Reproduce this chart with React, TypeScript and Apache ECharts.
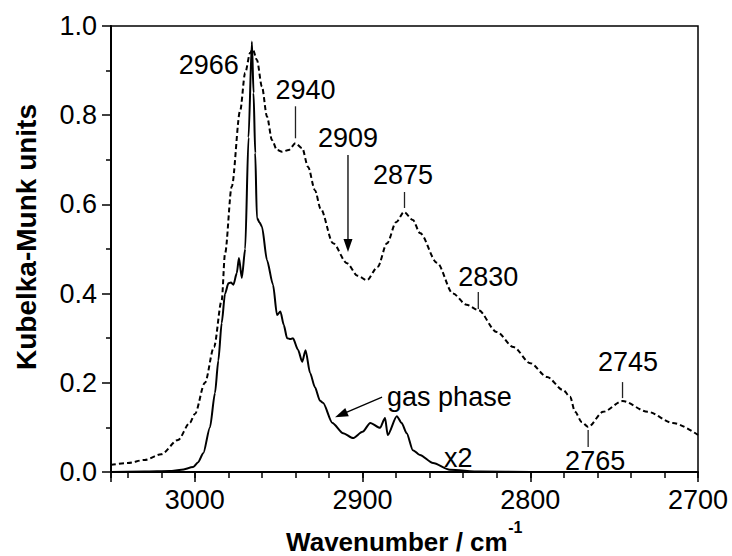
import React, { useEffect, useRef } from 'react';
import * as echarts from 'echarts';

// ---------- data ----------
const solidWn = [3050, 3030, 3015, 3008, 3001, 2998, 2995, 2991, 2988, 2986, 2984, 2982, 2980, 2978.5, 2977, 2975, 2973.7, 2972, 2970, 2968, 2966, 2965, 2964, 2963, 2961.5, 2960, 2957, 2953.4, 2951, 2949, 2947, 2945, 2943, 2941.5, 2938.5, 2936, 2934, 2931.3, 2928.4, 2925.4, 2923.6, 2918, 2911.6, 2905.7, 2900, 2895.4, 2889.6, 2886.6, 2885, 2879.6, 2876.7, 2873.7, 2870, 2865.8, 2858, 2848, 2830, 2800, 2700];
const solidVal = [0, 0.001, 0.002, 0.005, 0.011, 0.022, 0.042, 0.1, 0.177, 0.25, 0.334, 0.4, 0.423, 0.425, 0.42, 0.446, 0.48, 0.435, 0.5, 0.75, 0.965, 0.85, 0.715, 0.57, 0.56, 0.55, 0.475, 0.42, 0.352, 0.36, 0.33, 0.3, 0.298, 0.3, 0.274, 0.247, 0.273, 0.222, 0.19, 0.16, 0.155, 0.11, 0.087, 0.076, 0.09, 0.11, 0.099, 0.121, 0.083, 0.125, 0.11, 0.087, 0.049, 0.038, 0.02, 0.005, 0.001, 0, 0];

const dashWn = [3050, 3040, 3030, 3020, 3010, 3003, 3000, 2994, 2988.6, 2984, 2982, 2978, 2973, 2970, 2967, 2965.5, 2963, 2960, 2957, 2954, 2951, 2948, 2944, 2940, 2936, 2932.5, 2928.4, 2925, 2917.6, 2909.3, 2903, 2897.4, 2891, 2885.4, 2880, 2875.3, 2870, 2865.8, 2855.6, 2846.1, 2838, 2831, 2820, 2810, 2800, 2790, 2780.5, 2776.3, 2773.3, 2769.3, 2765.5, 2756.5, 2745, 2730, 2715, 2700];
const dashVal = [0.016, 0.02, 0.027, 0.04, 0.072, 0.11, 0.13, 0.2, 0.28, 0.385, 0.49, 0.64, 0.81, 0.895, 0.94, 0.948, 0.924, 0.864, 0.797, 0.744, 0.722, 0.718, 0.722, 0.737, 0.726, 0.684, 0.632, 0.59, 0.513, 0.468, 0.44, 0.43, 0.46, 0.513, 0.56, 0.583, 0.565, 0.536, 0.469, 0.4, 0.375, 0.363, 0.314, 0.28, 0.244, 0.213, 0.184, 0.169, 0.135, 0.112, 0.101, 0.135, 0.159, 0.135, 0.11, 0.083];

const xTickLabels = ['2700', '2800', '2900', '3000'];
const yTickLabels = ['0.0', '0.2', '0.4', '0.6', '0.8', '1.0'];

// peak annotations (anchor points in data space)
const peakLabels = ['2966', '2940', '2909', '2875', '2830', '2765', '2745'];
const peakWn = [2966, 2940, 2908.7, 2875, 2831, 2765.5, 2745];
const peakVal = [0.948, 0.737, 0.493, 0.583, 0.363, 0.101, 0.159];

const gasLabel = 'gas phase';
const gasWn = 2916.4;
const gasVal = 0.123;
const factorLabel = 'x2';
const factorWn = 2851.5;
const factorVal = 0.031;

const xTitle = 'Wavenumber / cm';
const xTitleSup = '-1';
const yTitle = 'Kubelka-Munk units';

// ---------- layout (pixel offsets from anchors) ----------
const peakLayout = [
  { mark: 'none', t0: 0, t1: 0, tx: -13, ty: 16, align: 'right' },
  { mark: 'tick', t0: -37, t1: -5, tx: 10, ty: -53, align: 'center' },
  { mark: 'arrow', t0: -97, t1: 0, tx: 0, ty: -114, align: 'center' },
  { mark: 'tick', t0: -20, t1: -4, tx: -1.5, ty: -37, align: 'center' },
  { mark: 'tick', t0: -18, t1: -1, tx: 10, ty: -33, align: 'center' },
  { mark: 'tick', t0: 3, t1: 20, tx: 7, ty: 34, align: 'center' },
  { mark: 'tick', t0: -19, t1: -3, tx: 5.5, ty: -39, align: 'center' },
];

const FONT = '"Liberation Sans", Arial, Helvetica, sans-serif';
const FS = 27;

function textEl(x: number, y: number, text: string, align: string, extra: any = {}) {
  return {
    type: 'text',
    x,
    y,
    z: 100,
    silent: true,
    style: {
      text,
      fill: '#000',
      fontSize: FS,
      fontFamily: FONT,
      align,
      textAlign: align,
      verticalAlign: 'middle',
      textVerticalAlign: 'middle',
      ...extra,
    },
  };
}

function arrowEls(tipX: number, tipY: number, tailX: number, tailY: number) {
  const dx = tipX - tailX;
  const dy = tipY - tailY;
  const len = Math.sqrt(dx * dx + dy * dy);
  const ux = dx / len;
  const uy = dy / len;
  const L = 13;
  const W = 4.5;
  const bx = tipX - ux * L;
  const by = tipY - uy * L;
  return [
    {
      type: 'line',
      z: 100,
      silent: true,
      shape: { x1: tailX, y1: tailY, x2: bx + ux * 2, y2: by + uy * 2 },
      style: { stroke: '#000', lineWidth: 1.3 },
    },
    {
      type: 'polygon',
      z: 100,
      silent: true,
      shape: {
        points: [
          [tipX, tipY],
          [bx - uy * W, by + ux * W],
          [bx + uy * W, by - ux * W],
        ],
      },
      style: { fill: '#000' },
    },
  ];
}

function measure(text: string, font: string): number {
  const c = document.createElement('canvas').getContext('2d');
  if (!c) return text.length * 14;
  c.font = font;
  return c.measureText(text).width;
}

export default function App() {
  const ref = useRef<HTMLDivElement>(null);

  useEffect(() => {
    if (!ref.current) return;
    const chart = echarts.init(ref.current, undefined, { renderer: 'svg' });

    const solidData = solidWn.map((w, i) => [w, solidVal[i]]);
    const dashData = dashWn.map((w, i) => [w, dashVal[i]]);

    const axisLabelStyle = { color: '#000', fontSize: FS, fontFamily: FONT };

    chart.setOption({
      animation: false,
      backgroundColor: '#fff',
      grid: {
        left: 111,
        right: 34,
        top: 26,
        bottom: 84,
        show: true,
        borderColor: '#000',
        borderWidth: 1.5,
        backgroundColor: 'transparent',
      },
      xAxis: [
        {
          type: 'value',
          min: 2700,
          max: 3050,
          interval: 100,
          inverse: true,
          axisLine: { show: true, onZero: false, lineStyle: { color: '#000', width: 2 } },
          axisTick: { show: true, length: 10, lineStyle: { color: '#000', width: 1.5 } },
          axisLabel: {
            ...axisLabelStyle,
            margin: 14,
            formatter: (v: number) => {
              const s = String(Math.round(v));
              return xTickLabels.indexOf(s) >= 0 ? s : '';
            },
          },
          splitLine: { show: false },
        },
        {
          type: 'value',
          min: 2700,
          max: 3050,
          interval: 20,
          inverse: true,
          position: 'bottom',
          axisLine: { show: false },
          axisTick: { show: true, length: 6, lineStyle: { color: '#000', width: 1.5 } },
          axisLabel: { show: false },
          splitLine: { show: false },
        },
      ],
      yAxis: {
        type: 'value',
        min: 0,
        max: 1,
        interval: 0.2,
        axisLine: { show: true, lineStyle: { color: '#000', width: 2 } },
        axisTick: { show: true, length: 9, lineStyle: { color: '#000', width: 1.5 } },
        minorTick: { show: true, splitNumber: 2, length: 5, lineStyle: { color: '#000', width: 1.5 } },
        axisLabel: {
          ...axisLabelStyle,
          margin: 14,
          formatter: (v: number) => yTickLabels[Math.round(v / 0.2)] ?? '',
        },
        splitLine: { show: false },
      },
      series: [
        {
          type: 'line',
          name: 'surface',
          xAxisIndex: 0,
          data: dashData,
          showSymbol: false,
          smooth: 0.3,
          smoothMonotone: 'x',
          lineStyle: { color: '#000', width: 2, type: [5, 3] },
          z: 3,
        },
        {
          type: 'line',
          name: 'gas phase',
          xAxisIndex: 0,
          data: solidData,
          showSymbol: false,
          smooth: 0.25,
          smoothMonotone: 'x',
          lineStyle: { color: '#000', width: 2, type: 'solid' },
          z: 4,
        },
      ],
    });

    const px = (w: number, v: number) => chart.convertToPixel({ seriesIndex: 0 }, [w, v]) as number[];

    const g: any[] = [];
    peakLabels.forEach((lab, i) => {
      const [ax, ay] = px(peakWn[i], peakVal[i]);
      const L = peakLayout[i];
      if (L.mark === 'tick') {
        g.push({
          type: 'line',
          z: 100,
          silent: true,
          shape: { x1: ax, y1: ay + L.t0, x2: ax, y2: ay + L.t1 },
          style: { stroke: '#222', lineWidth: 1.3 },
        });
      } else if (L.mark === 'arrow') {
        g.push(...arrowEls(ax, ay + L.t1, ax, ay + L.t0));
      }
      g.push(textEl(ax + L.tx, ay + L.ty, lab, L.align));
    });

    const [gx, gy] = px(gasWn, gasVal);
    g.push(...arrowEls(gx, gy, gx + 47, gy - 20));
    g.push(textEl(gx + 52, gy - 20, gasLabel, 'left'));

    const [fx, fy] = px(factorWn, factorVal);
    g.push(textEl(fx, fy, factorLabel, 'left'));

    // axis titles
    g.push({
      type: 'text',
      x: 26,
      y: 237,
      rotation: Math.PI / 2,
      silent: true,
      style: {
        text: yTitle,
        fill: '#000',
        fontSize: 28,
        fontWeight: 'bold',
        fontFamily: FONT,
        align: 'center',
        textAlign: 'center',
        verticalAlign: 'middle',
        textVerticalAlign: 'middle',
      },
    });

    const mainW = measure(xTitle, `bold 26px ${FONT}`);
    const supW = measure(xTitleSup, `bold 16px ${FONT}`);
    const centerX = 404;
    const left = centerX - (mainW + supW) / 2;
    g.push({
      type: 'text',
      x: left,
      y: 542,
      silent: true,
      style: {
        text: xTitle,
        fill: '#000',
        fontSize: 26,
        fontWeight: 'bold',
        fontFamily: FONT,
        align: 'left',
        textAlign: 'left',
        verticalAlign: 'middle',
        textVerticalAlign: 'middle',
      },
    });
    g.push({
      type: 'text',
      x: left + mainW + 0.5,
      y: 527,
      silent: true,
      style: {
        text: xTitleSup,
        fill: '#000',
        fontSize: 16,
        fontWeight: 'bold',
        fontFamily: FONT,
        align: 'left',
        textAlign: 'left',
        verticalAlign: 'middle',
        textVerticalAlign: 'middle',
      },
    });

    chart.setOption({ graphic: g });

    return () => {
      chart.dispose();
    };
  }, []);

  return (
    <div
      ref={ref}
      style={{ position: 'fixed', left: 0, top: 0, width: 732, height: 556, background: '#fff' }}
    />
  );
}
